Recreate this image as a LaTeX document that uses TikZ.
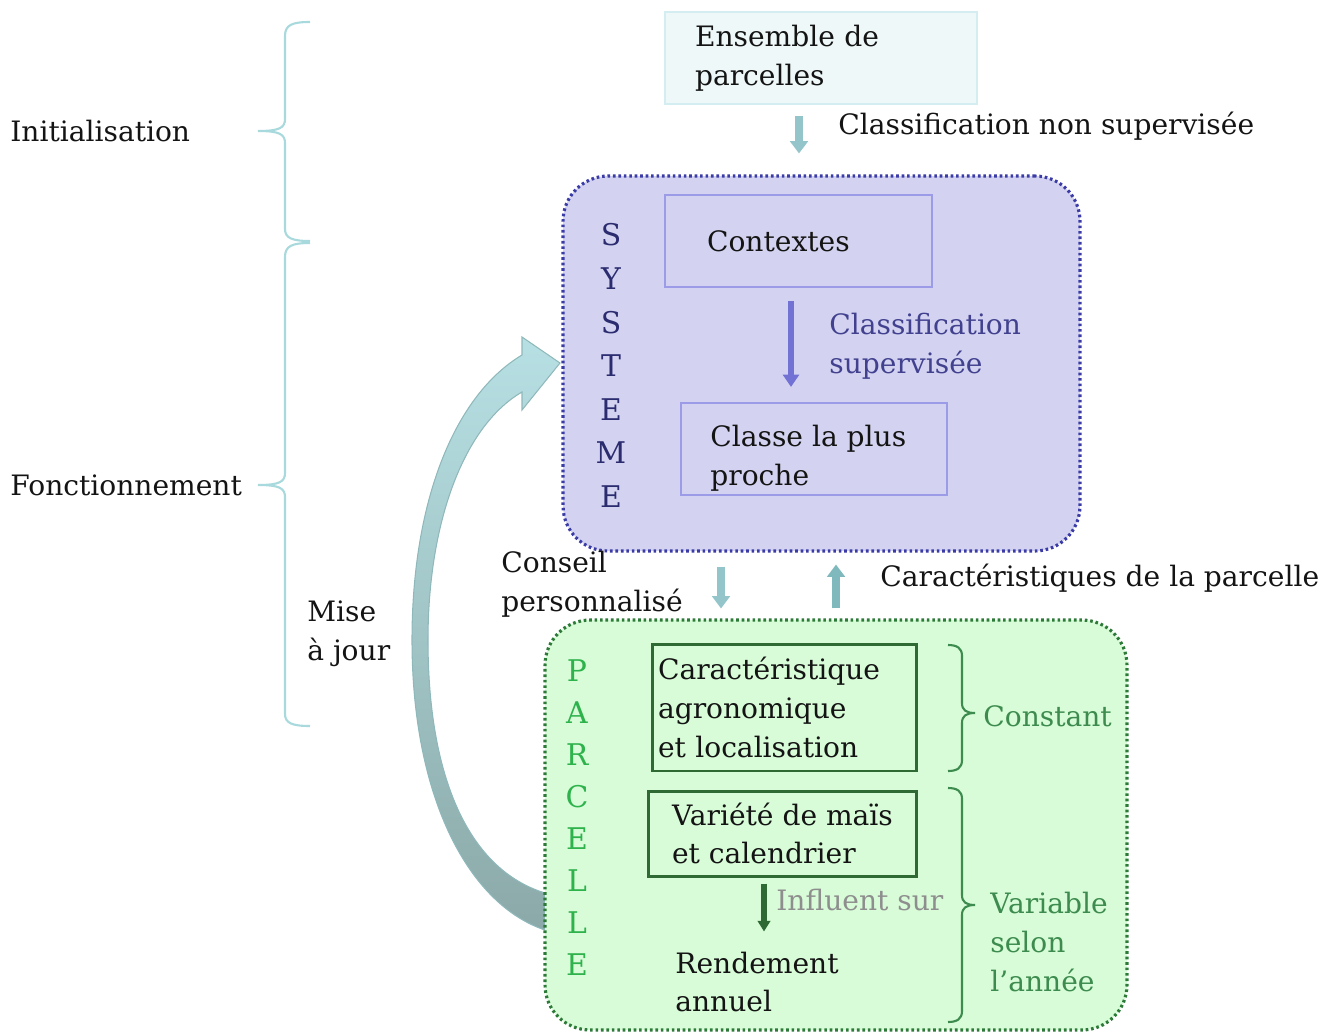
\documentclass[tikz,border=0pt]{standalone}
\usepackage{fontspec}
\setmainfont{DejaVu Serif}
\usepackage{xcolor}
\usetikzlibrary{positioning, shapes, arrows.meta}

\definecolor{ink}{HTML}{141414}
\definecolor{ensfill}{HTML}{EEF8F9}
\definecolor{ensline}{HTML}{D3EDF0}
\definecolor{tealarrow}{HTML}{93C5CA}
\definecolor{tealdark}{HTML}{7FB9BE}
\definecolor{sysfill}{HTML}{D3D3F1}
\definecolor{sysline}{HTML}{3B3BA6}
\definecolor{lavline}{HTML}{9B9BE8}
\definecolor{sysarrow}{HTML}{7272D4}
\definecolor{systxt}{HTML}{2B2B70}
\definecolor{supcol}{HTML}{41418F}
\definecolor{parfill}{HTML}{D7FCD7}
\definecolor{parline}{HTML}{2D7A38}
\definecolor{greenline}{HTML}{2F6A34}
\definecolor{partxt}{HTML}{2EB24C}
\definecolor{greentxt}{HTML}{3D8B4E}
\definecolor{graytxt}{HTML}{8E8E8E}
\definecolor{bracecol}{HTML}{A8D9DD}
\definecolor{majtop}{HTML}{B7E0E4}
\definecolor{majbot}{HTML}{8BA9A8}
\definecolor{majline}{HTML}{8FB8BB}

\begin{document}
\begin{tikzpicture}[x=0.02cm, y=-0.02cm, every node/.style={font=\fontsize{16}{22}\selectfont, text=ink, inner sep=0pt}, align=left,
    ensbox/.style={rectangle, draw=ensline, fill=ensfill, line width=1.2pt},
    sysbox/.style={rectangle, rounded corners=0.9cm, draw=sysline, fill=sysfill, line width=1.8pt, dash pattern=on 1.5pt off 1.6pt},
    parbox/.style={rectangle, rounded corners=0.9cm, draw=parline, fill=parfill, line width=1.8pt, dash pattern=on 1.5pt off 1.6pt},
    lavbox/.style={rectangle, draw=lavline, line width=1.2pt},
    greenbox/.style={rectangle, draw=greenline, line width=1.7pt},
    tealarr/.style={draw=tealarrow, line width=5pt, -{Triangle[width=10pt, length=7pt]}},
    sysarr/.style={draw=sysarrow, line width=3pt, -{Triangle[width=9pt, length=7pt]}},
    greenarr/.style={draw=greenline, line width=3pt, -{Triangle[width=7pt, length=6pt]}},
    phasebrace/.style={draw=bracecol, line width=1.2pt},
    yearbrace/.style={draw=greentxt, line width=1.2pt}]
    \useasboundingbox (0,0) rectangle (1325,1032);

    % Mise a jour arrow
    \shade[top color=majtop, bottom color=majbot, draw=majline, line width=0.6pt]
        (545,930) .. controls (470,905) and (412,800) .. (412,640) .. controls (412,500) and (455,395) .. (522,355)
        -- (522,337) -- (560,363) -- (522,410) -- (522,392)
        .. controls (465,425) and (428,520) .. (428,640) .. controls (428,780) and (470,870) .. (545,893) -- cycle;

    % Phases
    \node (init) [anchor=west] at (10,131) {Initialisation};
    \node (fonct) [anchor=west] at (10,485) {Fonctionnement};
    \draw[phasebrace] (310,22) .. controls (292,22) and (285,25) .. (285,36) -- (285,119) .. controls (285,128) and (279,131) .. (258,131)
        .. controls (279,131) and (285,134) .. (285,143) -- (285,229) .. controls (285,238) and (292,241) .. (310,241);
    \draw[phasebrace] (310,243) .. controls (292,243) and (285,246) .. (285,257) -- (285,473) .. controls (285,482) and (279,485) .. (258,485)
        .. controls (279,485) and (285,488) .. (285,497) -- (285,714) .. controls (285,723) and (292,726) .. (310,726);

    % Ensemble de parcelles
    \node (ens) [ensbox, text width=5.04cm, inner xsep=0.6cm, minimum height=1.84cm] at (821,58) {Ensemble de\\parcelles};
    \node (nonsup) [anchor=west] at (838,126) {Classification non supervisée};

    % Systeme
    \node (sys) [sysbox, minimum width=10.34cm, minimum height=7.5cm] at (821.5,363.5) {};
    \node (systeme) [align=center, text=systxt, font=\fontsize{17}{24.8}\selectfont] at (611,365.5) {S\\Y\\S\\T\\E\\M\\E};
    \node (ctx) [lavbox, text width=3.66cm, inner xsep=0.84cm, minimum height=1.84cm] at (798.5,241) {Contextes};
    \node (classe) [lavbox, minimum width=5.32cm, minimum height=1.84cm] at (814,449) {};
    \node (classetxt) [anchor=west] at (710,458.5) {Classe la plus\\proche};
    \node (sup) [anchor=west, text=supcol] at (829,346.5) {Classification\\supervisée};

    % Parcelle
    \node (par) [parbox, minimum width=11.64cm, minimum height=8.2cm] at (836,825) {};
    \node (parcelle) [align=center, text=partxt, font=\fontsize{17}{23.9}\selectfont] at (577,817.5) {P\\A\\R\\C\\E\\L\\L\\E};
    \node (agro) [greenbox, text width=5.06cm, inner xsep=0.12cm, minimum height=2.54cm] at (784.5,707.5) {Caractéristique\\agronomique\\et localisation};
    \node (variete) [greenbox, minimum width=5.38cm, minimum height=1.7cm] at (782.5,833.5) {Variété de maïs\\et calendrier};
    \node (rendement) [anchor=west] at (675,982) {Rendement\\annuel};
    \node (influent) [anchor=west, text=graytxt] at (776,900) {Influent sur};
    \node (constant) [anchor=west, text=greentxt] at (983,716) {Constant};
    \node (variable) [anchor=west, text=greentxt] at (990,942) {Variable\\selon\\l’année};
    \draw[yearbrace] (948,645) .. controls (957,645) and (962,648) .. (962,656) -- (962,703) .. controls (962,710) and (966,713) .. (975,713)
        .. controls (966,713) and (962,716) .. (962,723) -- (962,760) .. controls (962,768) and (957,771) .. (948,771);
    \draw[yearbrace] (948,788) .. controls (957,788) and (962,791) .. (962,799) -- (962,895) .. controls (962,902) and (966,905) .. (975,905)
        .. controls (966,905) and (962,908) .. (962,915) -- (962,1011) .. controls (962,1019) and (957,1022) .. (948,1022);

    % Between
    \node (conseil) [anchor=west] at (501,584.5) {Conseil\\personnalisé};
    \node (carac) [anchor=west] at (880,578) {Caractéristiques de la parcelle};
    \node (maj) [anchor=west] at (307,633.5) {Mise\\à jour};

    % Arrows
    \draw[tealarr, shorten <=0.22cm, shorten >=0.42cm] ([xshift=-0.44cm]ens.south) -- ([xshift=-0.44cm]ens.south |- sys.north);
    \draw[sysarr, shorten <=0.26cm, shorten >=0.3cm] ([xshift=-0.15cm]ctx.south) -- ([xshift=-0.15cm]ctx.south |- classe.north);
    \draw[tealarr, shorten <=0.28cm, shorten >=0.2cm] ([xshift=-2.01cm]sys.south) -- ([xshift=-2.01cm]sys.south |- par.north);
    \draw[tealarr, draw=tealdark, shorten <=0.2cm, shorten >=0.24cm] (par.north) -- (par.north |- sys.south);
    \draw[greenarr, shorten <=0.12cm, shorten >=0.4cm] ([xshift=-0.37cm]variete.south) -- ([xshift=-0.37cm]variete.south |- rendement.north);
\end{tikzpicture}
\end{document}
